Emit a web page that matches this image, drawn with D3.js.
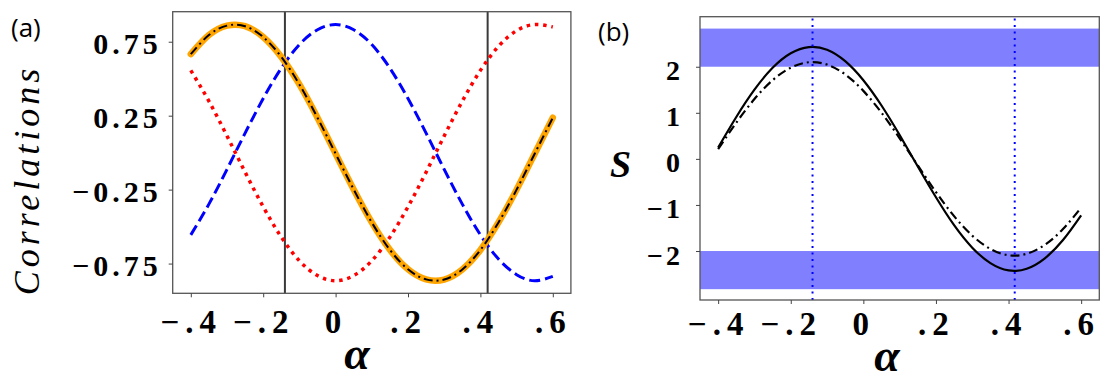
<!DOCTYPE html>
<meta charset="utf-8">
<script src="https://d3js.org/d3.v7.min.js"></script>
<style>
  body { margin: 0; background: #fff; }
  .tick line { stroke: #444; }
</style>
<body>
<script>

// alpha grid for both panels
var alpha = [-0.40, -0.35, -0.30, -0.25, -0.20, -0.15, -0.10, -0.05, 0.00, 0.05, 0.10,
             0.15, 0.20, 0.25, 0.30, 0.35, 0.40, 0.45, 0.50, 0.55, 0.60];

// panel (a) correlations
var corrOrange = [0.666, 0.795, 0.859, 0.855, 0.782, 0.647, 0.461, 0.236, -0.007, -0.249, -0.472,
                  -0.657, -0.789, -0.857, -0.858, -0.790, -0.658, -0.472, -0.250, -0.007, 0.236];
var corrBlue = [-0.556, -0.348, -0.113, 0.132, 0.366, 0.571, 0.731, 0.831, 0.866, 0.831, 0.731,
                0.571, 0.366, 0.132, -0.113, -0.348, -0.556, -0.719, -0.825, -0.866, -0.837];
var corrRed = [0.556, 0.348, 0.113, -0.132, -0.366, -0.571, -0.731, -0.831, -0.866, -0.831, -0.731,
               -0.571, -0.366, -0.132, 0.113, 0.348, 0.556, 0.719, 0.825, 0.866, 0.850];
var vlinesA = [-0.14, 0.42];

// panel (b) S
var sSolid = [0.247, 0.910, 1.502, 1.976, 2.292, 2.426, 2.369, 2.121, 1.708, 1.159, 0.518,
              -0.165, -0.833, -1.439, -1.927, -2.262, -2.420, -2.384, -2.158, -1.762, -1.225];
var sDashDot = [0.213, 0.786, 1.298, 1.707, 1.980, 2.097, 2.047, 1.833, 1.476, 1.002, 0.447,
                -0.143, -0.720, -1.243, -1.665, -1.955, -2.092, -2.060, -1.865, -1.523, -1.058];
var bands = [[2, 2.828], [-2.828, -2]];
var vlinesB = [-0.14, 0.417];

// ticks
var xTicks = [-0.4, -0.2, 0, 0.2, 0.4, 0.6];
var xTickLabels = ["\u2212.4", "\u2212.2", "0", ".2", ".4", ".6"];
var yTicksA = [0.75, 0.25, -0.25, -0.75];
var yTickLabelsA = ["0.75", "0.25", "\u22120.25", "\u22120.75"];
var yTicksB = [2, 1, 0, -1, -2];
var yTickLabelsB = ["2", "1", "0", "\u22121", "\u22122"];

var serifFont = "'Liberation Serif', 'DejaVu Serif', 'Times New Roman', serif";

var svg = d3.select("body").append("svg")
  .attr("width", 1109)
  .attr("height", 380);

function labelFor(ticks, labels) {
  return function(d) { return labels[ticks.indexOf(d)]; };
}

function styleTicks(sel, size, spacing) {
  sel.attr("font-family", null).attr("font-size", null);
  sel.selectAll("text")
    .attr("dy", null)
    .style("font-family", serifFont)
    .style("font-weight", "700")
    .style("font-size", size + "px")
    .style("letter-spacing", spacing + "px")
    .style("fill", "#000");
}

// ---------- panel (a) ----------
var xA = d3.scaleLinear().domain([-0.45, 0.65]).range([172.7, 570.9]);
var yA = d3.scaleLinear().domain([-0.951, 0.953]).range([293.3, 11.7]);

var gA = svg.append("g");

gA.selectAll(".vline")
  .data(vlinesA)
  .enter().append("line")
  .attr("x1", function(d) { return xA(d); })
  .attr("x2", function(d) { return xA(d); })
  .attr("y1", yA.range()[0])
  .attr("y2", yA.range()[1])
  .style("stroke", "#3a3a3a")
  .style("stroke-width", 2);

var lineA = function(vals) {
  return d3.line()
    .x(function(d, i) { return xA(alpha[i]); })
    .y(function(d) { return yA(d); })
    .curve(d3.curveNatural)(vals);
};

gA.append("path").attr("d", lineA(corrBlue))
  .style("fill", "none").style("stroke", "#0000ff")
  .style("stroke-width", 3).style("stroke-dasharray", "11,5");

gA.append("path").attr("d", lineA(corrRed))
  .style("fill", "none").style("stroke", "#ff0000")
  .style("stroke-width", 3.5).style("stroke-dasharray", "3.5,4.8");

gA.append("path").attr("d", lineA(corrOrange))
  .style("fill", "none").style("stroke", "#ffa500")
  .style("stroke-width", 6.5).style("stroke-linecap", "round");

gA.append("path").attr("d", lineA(corrOrange))
  .style("fill", "none").style("stroke", "#000")
  .style("stroke-width", 2).style("stroke-dasharray", "9,4,2,4");

gA.append("rect")
  .attr("x", xA.range()[0]).attr("y", yA.range()[1])
  .attr("width", xA.range()[1] - xA.range()[0])
  .attr("height", yA.range()[0] - yA.range()[1])
  .style("fill", "none").style("stroke", "#555").style("stroke-width", 1.3);

var xAxisA = gA.append("g")
  .attr("transform", "translate(0," + yA.range()[0] + ")")
  .call(d3.axisBottom(xA).tickValues(xTicks).tickSize(4).tickFormat(labelFor(xTicks, xTickLabels)));
xAxisA.select(".domain").remove();
styleTicks(xAxisA, 33, 6);
xAxisA.selectAll("text").attr("y", 40);

var yAxisA = gA.append("g")
  .attr("transform", "translate(" + xA.range()[0] + ",0)")
  .call(d3.axisLeft(yA).tickValues(yTicksA).tickSize(4).tickFormat(labelFor(yTicksA, yTickLabelsA)));
yAxisA.select(".domain").remove();
styleTicks(yAxisA, 30, 4);
yAxisA.selectAll("text").attr("y", 12).attr("x", -11);

svg.append("text")
  .attr("transform", "translate(39,180) rotate(-90)")
  .attr("text-anchor", "middle")
  .style("font-family", serifFont)
  .style("font-style", "italic")
  .style("font-size", "36px")
  .style("letter-spacing", "4px")
  .text("Correlations");

svg.append("text")
  .attr("x", 357).attr("y", 369)
  .attr("text-anchor", "middle")
  .style("font-family", serifFont)
  .style("font-style", "italic").style("font-weight", "700")
  .style("font-size", "46px")
  .text("\u03b1");

svg.append("text")
  .attr("x", 11).attr("y", 37)
  .style("font-family", "'Open Sans', sans-serif")
  .style("font-size", "26px")
  .text("(a)");

// ---------- panel (b) ----------
var xB = d3.scaleLinear().domain([-0.45, 0.65]).range([700, 1099.3]);
var yB = d3.scaleLinear().domain([-3.063, 3.086]).range([300, 16.7]);

var gB = svg.append("g");

gB.selectAll(".band")
  .data(bands)
  .enter().append("rect")
  .attr("x", xB.range()[0])
  .attr("width", xB.range()[1] - xB.range()[0])
  .attr("y", function(d) { return yB(d[1]); })
  .attr("height", function(d) { return yB(d[0]) - yB(d[1]); })
  .style("fill", "#8080ff");

var lineB = function(vals) {
  return d3.line()
    .x(function(d, i) { return xB(alpha[i]); })
    .y(function(d) { return yB(d); })
    .curve(d3.curveNatural)(vals);
};

gB.append("path").attr("d", lineB(sSolid))
  .style("fill", "none").style("stroke", "#000").style("stroke-width", 2.2);

gB.append("path").attr("d", lineB(sDashDot))
  .style("fill", "none").style("stroke", "#000")
  .style("stroke-width", 2.2).style("stroke-dasharray", "9,4,2,4");

gB.selectAll(".vline")
  .data(vlinesB)
  .enter().append("line")
  .attr("x1", function(d) { return xB(d); })
  .attr("x2", function(d) { return xB(d); })
  .attr("y1", yB.range()[0])
  .attr("y2", yB.range()[1])
  .style("stroke", "#0000ff")
  .style("stroke-width", 2)
  .style("stroke-dasharray", "2,4.5");

gB.append("rect")
  .attr("x", xB.range()[0]).attr("y", yB.range()[1])
  .attr("width", xB.range()[1] - xB.range()[0])
  .attr("height", yB.range()[0] - yB.range()[1])
  .style("fill", "none").style("stroke", "#555").style("stroke-width", 1.3);

var xAxisB = gB.append("g")
  .attr("transform", "translate(0," + yB.range()[0] + ")")
  .call(d3.axisBottom(xB).tickValues(xTicks).tickSize(4).tickFormat(labelFor(xTicks, xTickLabels)));
xAxisB.select(".domain").remove();
styleTicks(xAxisB, 33, 6);
xAxisB.selectAll("text").attr("y", 35);

var yAxisB = gB.append("g")
  .attr("transform", "translate(" + xB.range()[0] + ",0)")
  .call(d3.axisLeft(yB).tickValues(yTicksB).tickSize(4).tickFormat(labelFor(yTicksB, yTickLabelsB)));
yAxisB.select(".domain").remove();
styleTicks(yAxisB, 28, 3);
yAxisB.selectAll("text").attr("y", 13).attr("x", -17);

svg.append("text")
  .attr("x", 610).attr("y", 177)
  .style("font-family", serifFont)
  .style("font-style", "italic").style("font-weight", "700")
  .style("font-size", "38px")
  .text("S");

svg.append("text")
  .attr("x", 887).attr("y", 371)
  .attr("text-anchor", "middle")
  .style("font-family", serifFont)
  .style("font-style", "italic").style("font-weight", "700")
  .style("font-size", "46px")
  .text("\u03b1");

svg.append("text")
  .attr("x", 598).attr("y", 41)
  .style("font-family", "'Open Sans', sans-serif")
  .style("font-size", "26px")
  .text("(b)");

</script>
</body>
